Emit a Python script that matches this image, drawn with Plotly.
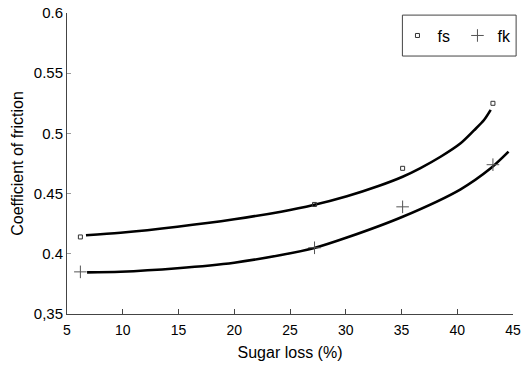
import plotly.graph_objects as go

# measured points
sugar_loss = [6.2, 27.2, 35.1, 43.2]
fs_values = [0.414, 0.441, 0.471, 0.525]
fk_values = [0.385, 0.405, 0.439, 0.474]

# fitted curves
fs_curve_x = [6.7, 9.8, 14.9, 20.0, 24.2, 27.1, 30.1, 33.0, 35.1, 36.7, 38.5, 40.3, 41.5, 42.4, 43.0]
fs_curve_y = [0.4154, 0.4175, 0.4225, 0.4287, 0.435, 0.4405, 0.4478, 0.4565, 0.4640, 0.4712, 0.4806, 0.4918, 0.5025, 0.5111, 0.5195]
fk_curve_x = [6.8, 9.8, 14.9, 20.0, 24.2, 27.1, 30.1, 35.1, 40.3, 43.0, 44.6]
fk_curve_y = [0.3846, 0.3851, 0.388, 0.3926, 0.399, 0.4046, 0.4135, 0.4308, 0.4536, 0.4710, 0.4848]

x_ticks = [5, 10, 15, 20, 25, 30, 35, 40, 45]
y_ticks = [0.35, 0.4, 0.45, 0.5, 0.55, 0.6]
y_tick_text = ["0,35", "0.4", "0.45", "0.5", "0.55", "0.6"]

font = "Liberation Sans, Arial, Helvetica, sans-serif"

fig = go.Figure()
fig.add_trace(go.Scatter(x=fs_curve_x, y=fs_curve_y, mode="lines",
                         line=dict(color="black", width=2.6, shape="spline", smoothing=0.8),
                         showlegend=False, hoverinfo="skip"))
fig.add_trace(go.Scatter(x=fk_curve_x, y=fk_curve_y, mode="lines",
                         line=dict(color="black", width=2.6, shape="spline", smoothing=0.8),
                         showlegend=False, hoverinfo="skip"))
fig.add_trace(go.Scatter(x=sugar_loss, y=fs_values, mode="markers", name="fs",
                         marker=dict(symbol="square-open", size=4, color="#333", line=dict(width=1, color="#333"))))
fig.add_trace(go.Scatter(x=sugar_loss, y=fk_values, mode="markers", name="fk",
                         marker=dict(symbol="cross-thin-open", size=9, color="#555", line=dict(width=1, color="#555"))))

# legend frame (paper coordinates of the plot area)
fig.add_shape(type="rect", xref="paper", yref="paper", x0=0.752, x1=1.007, y0=0.857, y1=0.993,
              line=dict(color="#444", width=1), fillcolor="rgba(0,0,0,0)", layer="below")

fig.update_layout(
    width=522, height=368, autosize=False,
    margin=dict(l=67, r=9, t=13, b=54, autoexpand=False),
    paper_bgcolor="white", plot_bgcolor="white",
    font=dict(family=font, size=14, color="black"),
    legend=dict(orientation="h", x=1.01, xanchor="right", y=0.925, yanchor="middle",
                borderwidth=0, bgcolor="rgba(0,0,0,0)",
                font=dict(size=16, color="black"), itemwidth=30, entrywidth=15, tracegroupgap=0),
    xaxis=dict(range=[5, 45], tickvals=x_ticks, ticks="inside", ticklen=5, tickcolor="#444",
               showline=True, linecolor="#444", linewidth=1, showgrid=False, zeroline=False,
               title=dict(text="Sugar loss (%)", standoff=10, font=dict(size=16)),
               tickfont=dict(size=14), ticklabelstandoff=3),
    yaxis=dict(range=[0.35, 0.6], tickvals=y_ticks, ticktext=y_tick_text, ticks="inside", ticklen=4,
               tickcolor="#999", showline=True, linecolor="#444", linewidth=1, showgrid=False,
               zeroline=False, title=dict(text="Coefficient of friction", standoff=6, font=dict(size=16)),
               tickfont=dict(size=15)),
)

fig.write_html("out.html")
